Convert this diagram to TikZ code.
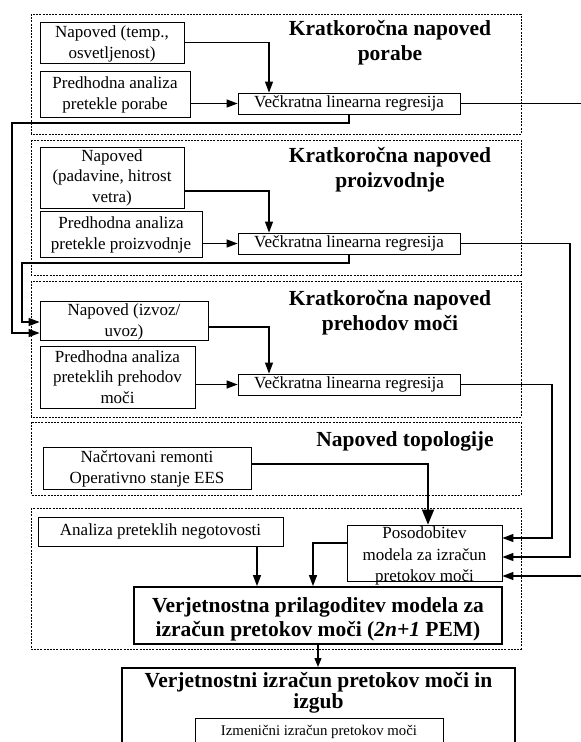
\documentclass[tikz,border=0pt]{standalone}
\usepackage{fontspec}
\setmainfont{Liberation Serif}
\usetikzlibrary{arrows.meta,calc}
\begin{document}
\begin{tikzpicture}[x=1pt,y=-1pt,
  box/.style={draw, line width=0.8pt, align=center, inner sep=0pt, fill=white,
    font=\fontsize{17}{20.5}\selectfont},
  plain/.style={align=center, inner sep=0pt, font=\fontsize{17}{20.5}\selectfont},
  title/.style={align=center, inner sep=0pt, font=\bfseries\fontsize{21.5}{25}\selectfont},
  grp/.style={draw, line width=0.9pt, dash pattern=on 2pt off 1.2pt},
  arr/.style={line width=1.3pt, -{Triangle[length=11pt,width=8pt]}},
  bigarr/.style={line width=1.3pt, -{Triangle[length=15pt,width=12pt]}}
]
\useasboundingbox (0,0) rectangle (581,742);
\clip (0,0) rectangle (581,742);

% dashed groups
\draw[grp] (31,14) rectangle (521,134);
\draw[grp] (31,140) rectangle (521,275);
\draw[grp] (31,281) rectangle (521,417);
\draw[grp] (31,422) rectangle (521,495);
\draw[grp] (31,508) rectangle (521,649);

% group 1
\node[title] (t1) at (390,42.5) {Kratkoročna napoved\\porabe};
\node[box, minimum width=144pt, minimum height=41pt] (n1) at (112,42.5) {};
\node[plain] (n1t) at (112,44) {Napoved (temp.,\\osvetljenost)};
\node[box, minimum width=150pt, minimum height=46pt] (p1) at (115,94) {};
\node[plain] (p1t) at (115,95) {Predhodna analiza\\pretekle porabe};
\node[box, minimum width=222pt, minimum height=21pt] (r1) at (349,103.5) {Večkratna linearna regresija};

% group 2
\node[title] (t2) at (390,170) {Kratkoročna napoved\\proizvodnje};
\node[box, minimum width=144pt, minimum height=61pt] (n2) at (112,177.5) {Napoved\\(padavine, hitrost\\vetra)};
\node[box, minimum width=162pt, minimum height=46pt] (p2) at (121,234) {};
\node[plain] (p2t) at (121,235) {Predhodna analiza\\pretekle proizvodnje};
\node[box, minimum width=222pt, minimum height=21pt] (r2) at (349,243.5) {Večkratna linearna regresija};

% group 3
\node[title] (t3) at (390,312.5) {Kratkoročna napoved\\prehodov moči};
\node[box, minimum width=168pt, minimum height=39pt] (n3) at (124,320.5) {};
\node[plain] (n3t) at (124,322) {Napoved (izvoz/\\uvoz)};
\node[box, minimum width=155pt, minimum height=62pt] (p3) at (117.5,377) {Predhodna analiza\\preteklih prehodov\\moči};
\node[box, minimum width=222pt, minimum height=21pt] (r3) at (349,384.5) {Večkratna linearna regresija};

% group 4
\node[title] (t4) at (405,441) {Napoved topologije};
\node[box, minimum width=208pt, minimum height=42pt] (nt) at (147,468) {};
\node[plain] (ntt) at (147,469) {Načrtovani remonti\\Operativno stanje EES};

% group 5
\node[box, minimum width=245pt, minimum height=29pt] (an) at (160.5,531.5) {Analiza preteklih negotovosti};
\node[box, minimum width=155pt, minimum height=56pt] (po) at (424.5,553) {};
\node[plain, font=\fontsize{17}{21.5}\selectfont] (pot) at (424.5,556) {Posodobitev\\modela za izračun\\pretokov moči};
\node[box, line width=1.8pt, minimum width=368pt, minimum height=57pt] (vj) at (318,615.5) {};
\node[title, font=\bfseries\fontsize{21.5}{24}\selectfont] (vjt) at (318,619) {Verjetnostna prilagoditev modela za\\izračun pretokov moči (\textit{2n+1} PEM)};

% bottom box
\node[draw, line width=1.5pt, anchor=north, minimum width=393pt, minimum height=120pt, inner sep=0pt] (bt) at (318.5,667) {};
\node[title, font=\bfseries\fontsize{21.5}{21}\selectfont] (btt) at (318.5,693) {Verjetnostni izračun pretokov moči in\\izgub};
\node[box, minimum width=248pt, minimum height=28pt, font=\fontsize{14.8}{17}\selectfont] (iz) at (319,732) {Izmenični izračun pretokov moči};

% connectors inside groups
\draw[arr] (n1.east) -| ($(r1.north)+(-80,0)$);
\draw[arr] (p1.east |- r1.west) -- (r1.west);
\draw[arr] ($(n2.east)+(0,13.5)$) -| ($(r2.north)+(-80,0)$);
\draw[arr] (p2.east |- r2.west) -- (r2.west);
\draw[arr] ($(n3.east)+(0,6.5)$) -| ($(r3.north)+(-80,0)$);
\draw[arr] (p3.east |- r3.west) -- (r3.west);

% feedback to group 3
\coordinate (c1) at (12,123);
\coordinate (c2) at (22,263);
\draw[arr] (r1.south) |- (c1) |- ($(n3.west)+(0,12.5)$);
\draw[arr] (r2.south) |- (c2) |- ($(n3.west)+(0,1.5)$);

% right side to Posodobitev
\coordinate (e1) at (592,576);
\coordinate (e2) at (570,557);
\coordinate (e3) at (552,538);
\draw[arr] (r1.east) -| (e1) -- (e1 -| po.east);
\draw[arr] (r2.east) -| (e2) -- (e2 -| po.east);
\draw[arr] (r3.east) -| (e3) -- (e3 -| po.east);

% topology
\coordinate (e4) at (428,464);
\draw[bigarr] (nt.east |- e4) -- (e4) -- (e4 |- po.north);

% group 5 internal
\coordinate (e5) at (257,540);
\draw[arr] (an.south -| e5) -- (e5 |- vj.north);
\coordinate (e6) at (313,543);
\draw[arr] (po.west |- e6) -- (e6) -- (e6 |- vj.north);
\draw[line width=1.3pt, -{Triangle[length=9pt,width=7pt]}] (vj.south) -- (vj.south |- bt.north);
\end{tikzpicture}
\end{document}
